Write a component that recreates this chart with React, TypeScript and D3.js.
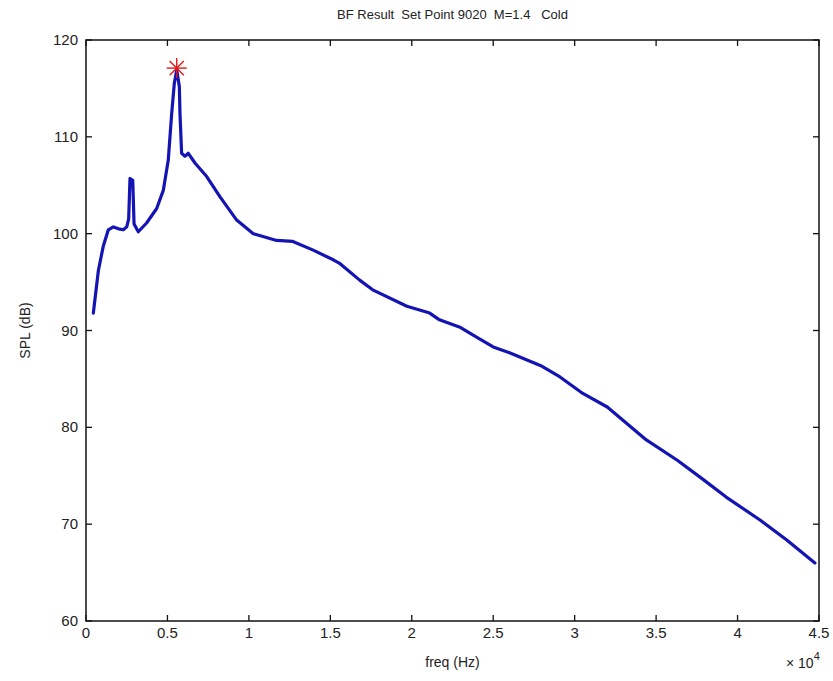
import React, { useEffect, useRef } from "react";
import * as d3 from "d3";

const freqHz: number[] = [
  450, 760, 1060, 1370, 1680, 2000, 2290, 2500, 2620, 2700, 2870, 2950, 3210, 3720, 4340, 4750,
  5050, 5260, 5420, 5570, 5730, 5770, 5870, 6080, 6280, 6690, 7410, 8230, 9250, 10270, 11700,
  12700, 13950, 15180, 15600, 16800, 17600, 19700, 21100, 21700, 23000, 24000, 25000, 26000,
  27000, 28000, 29100, 30500, 32000, 33200, 34400, 36300, 37900, 39300, 41400, 43000, 44750,
];
const splDb: number[] = [
  91.8, 96.2, 98.7, 100.4, 100.7, 100.5, 100.4, 100.7, 101.5, 105.7, 105.5, 101.0, 100.2, 101.1,
  102.6, 104.5, 107.6, 112.4, 115.5, 116.9, 115.2, 112.4, 108.3, 108.0, 108.3, 107.3, 105.9,
  103.8, 101.4, 100.0, 99.3, 99.2, 98.3, 97.3, 96.9, 95.2, 94.2, 92.5, 91.8, 91.1, 90.3, 89.3,
  88.3, 87.7, 87.0, 86.3, 85.2, 83.5, 82.1, 80.4, 78.7, 76.6, 74.6, 72.8, 70.4, 68.4, 66.0,
];
const peakFreq = 5570;
const peakSpl = 117.1;
const xTicks: number[] = [0, 5000, 10000, 15000, 20000, 25000, 30000, 35000, 40000, 45000];
const yTicks: number[] = [60, 70, 80, 90, 100, 110, 120];
const titleText = "BF Result  Set Point 9020  M=1.4   Cold";
const xLabel = "freq (Hz)";
const yLabel = "SPL (dB)";

export default function App() {
  const ref = useRef<SVGSVGElement | null>(null);

  useEffect(() => {
    const svg = d3.select(ref.current);
    svg.selectAll("*").remove();
    const W = 833, H = 681;
    const L = 86, R = 819, T = 40, B = 621;
    const x = d3.scaleLinear().domain([0, 45000]).range([L, R]);
    const y = d3.scaleLinear().domain([60, 120]).range([B, T]);
    const font = "'Liberation Sans', Arial, sans-serif";

    svg.append("rect").attr("width", W).attr("height", H).attr("fill", "#fff");

    // curve
    const data = freqHz.map((f, i) => [f, splDb[i]] as [number, number]);
    const line = d3.line<[number, number]>().x(d => x(d[0])).y(d => y(d[1]));
    svg.append("path").attr("d", line(data)).attr("fill", "none")
      .attr("stroke", "#1414b4").attr("stroke-width", 3.2)
      .attr("stroke-linejoin", "round").attr("stroke-linecap", "round");

    // box
    svg.append("rect").attr("x", L).attr("y", T).attr("width", R - L).attr("height", B - T)
      .attr("fill", "none").attr("stroke", "#111").attr("stroke-width", 1.5);

    const tl = 6;
    const g = svg.append("g").attr("stroke", "#111").attr("stroke-width", 1.3);
    xTicks.forEach(t => {
      g.append("line").attr("x1", x(t)).attr("x2", x(t)).attr("y1", B).attr("y2", B - tl);
      g.append("line").attr("x1", x(t)).attr("x2", x(t)).attr("y1", T).attr("y2", T + tl);
    });
    yTicks.forEach(t => {
      g.append("line").attr("x1", L).attr("x2", L + tl).attr("y1", y(t)).attr("y2", y(t));
      g.append("line").attr("x1", R).attr("x2", R - tl).attr("y1", y(t)).attr("y2", y(t));
    });

    const txt = svg.append("g").attr("font-family", font).attr("fill", "#222")
      .style("white-space", "pre");
    xTicks.forEach(t => {
      txt.append("text").attr("x", x(t)).attr("y", 638).attr("text-anchor", "middle")
        .attr("font-size", 15).text(String(t / 10000));
    });
    yTicks.forEach(t => {
      txt.append("text").attr("x", L - 8).attr("y", y(t) + 5).attr("text-anchor", "end")
        .attr("font-size", 15).text(String(t));
    });

    txt.append("text").attr("x", (L + R) / 2).attr("y", 19).attr("text-anchor", "middle")
      .attr("font-size", 13).attr("xml:space", "preserve").text(titleText);
    txt.append("text").attr("x", (L + R) / 2).attr("y", 667).attr("text-anchor", "middle")
      .attr("font-size", 14).text(xLabel);
    txt.append("text").attr("transform", `translate(30,${(T + B) / 2}) rotate(-90)`)
      .attr("text-anchor", "middle").attr("font-size", 14).text(yLabel);
    const mult = txt.append("text").attr("x", 786).attr("y", 668).attr("font-size", 14);
    mult.append("tspan").text("\u00d7 10");
    mult.append("tspan").attr("dy", -8).attr("font-size", 11).text("4");

    // peak marker (asterisk)
    const px = x(peakFreq), py = y(peakSpl), r = 10;
    const mk = svg.append("g").attr("stroke", "#e01818").attr("stroke-width", 1.4);
    [0, 45, 90, 135].forEach(a => {
      const rad = (a * Math.PI) / 180;
      mk.append("line")
        .attr("x1", px - r * Math.cos(rad)).attr("y1", py - r * Math.sin(rad))
        .attr("x2", px + r * Math.cos(rad)).attr("y2", py + r * Math.sin(rad));
    });
  }, []);

  return (
    <svg ref={ref} width={833} height={681}
      style={{ position: "absolute", left: 0, top: 0, display: "block" }} />
  );
}
